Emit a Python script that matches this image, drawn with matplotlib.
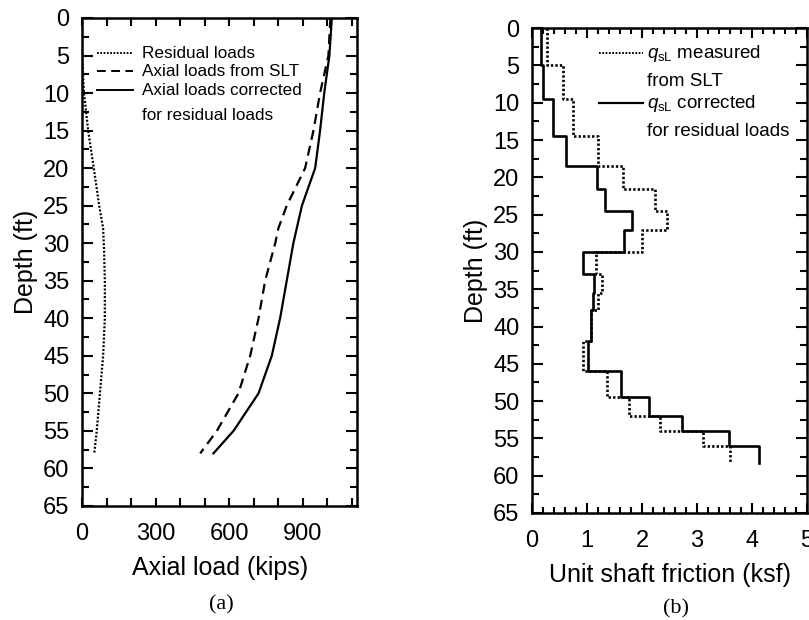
"""Axial load and unit shaft friction profiles vs depth, panels (a) and (b)"""

import matplotlib

matplotlib.use("Agg")
from matplotlib import pyplot as plt
from matplotlib.ticker import MultipleLocator

# ---- panel (a): axial load profiles (kips) vs depth (ft)
residual_depth = [0, 5, 7, 10, 15, 20, 25, 28, 31, 35, 40, 45, 50, 55, 58]
residual_load = [0, 0, 3, 8, 25, 48, 70, 86, 90, 93, 93, 86, 73, 60, 50]

slt_depth = [0, 5, 10, 15, 20, 25, 28, 30, 35, 40, 45, 50, 55, 58]
slt_load = [1013, 1005, 971, 944, 910, 835, 801, 788, 747, 720, 686, 638, 550, 482]

corr_depth = [0, 5, 10, 15, 20, 25, 28, 30, 35, 40, 45, 50, 55, 58]
corr_load = [1019, 1009, 988, 971, 951, 897, 876, 862, 835, 808, 774, 720, 618, 536]

# ---- panel (b): unit shaft friction per layer (ksf)
layer_bounds = [0, 5, 9.5, 14.5, 18.5, 21.5, 24.5, 27, 30, 33, 35.5, 37.8,
                42, 46, 49.5, 52, 54, 56, 58.3]
qs_measured = [0.28, 0.57, 0.75, 1.2, 1.65, 2.24, 2.45, 2.0, 1.17, 1.28, 1.2,
               1.08, 0.92, 1.36, 1.76, 2.33, 3.11, 3.6]
qs_corrected = [0.17, 0.2, 0.39, 0.62, 1.18, 1.33, 1.82, 1.67, 0.93, 1.13, 1.11,
                1.08, 1.02, 1.61, 2.12, 2.72, 3.58, 4.13]

plt.rcParams["font.family"] = ["Liberation Sans", "DejaVu Sans"]
plt.rcParams["mathtext.fontset"] = "custom"
plt.rcParams["mathtext.rm"] = "Liberation Sans"
plt.rcParams["mathtext.it"] = "Liberation Sans:italic"

DOT = (0, (0.9, 0.8))
DASH = (0, (4.5, 2.8))


def step_path(bounds, values):
    xs, ys = [], []
    for top, bot, v in zip(bounds[:-1], bounds[1:], values):
        xs += [v, v]
        ys += [top, bot]
    return xs, ys


def style_axes(ax):
    for sp in ax.spines.values():
        sp.set_linewidth(1.8)
    ax.tick_params(which="both", direction="in", top=True, right=True,
                   width=1.5, labelsize=17, pad=9)
    ax.tick_params(axis="x", which="both", pad=12)
    ax.tick_params(axis="y", which="major", length=8)
    ax.tick_params(axis="y", which="minor", length=5)
    ax.set_ylim(65, 0)
    ax.yaxis.set_major_locator(MultipleLocator(5))
    ax.yaxis.set_minor_locator(MultipleLocator(2.5))


def legend_row(ax, x0, x1, y, ls, lw):
    ax.plot([x0, x1], [y, y], transform=ax.transAxes, color="k", ls=ls,
            lw=lw, clip_on=False)


def main():
    fig = plt.figure(figsize=(8.09, 6.2), dpi=100)
    ax1 = fig.add_axes([0.1014, 0.184, 0.340, 0.787])
    ax2 = fig.add_axes([0.6576, 0.1726, 0.340, 0.782])

    # (a)
    ax1.plot(residual_load, residual_depth, color="k", ls=DOT, lw=1.6)
    ax1.plot(slt_load, slt_depth, color="k", ls=DASH, lw=1.6)
    ax1.plot(corr_load, corr_depth, color="k", ls="-", lw=1.6)
    style_axes(ax1)
    ax1.set_xlim(0, 1122)
    ax1.xaxis.set_major_locator(MultipleLocator(300))
    ax1.xaxis.set_minor_locator(MultipleLocator(100))
    ax1.tick_params(axis="x", which="both", length=6)
    ax1.set_xlabel("Axial load (kips)", fontsize=18, labelpad=8)
    ax1.set_ylabel("Depth (ft)", fontsize=18, labelpad=4)

    fs = 12.3
    legend_row(ax1, 0.055, 0.185, 0.928, DOT, 1.4)
    ax1.text(0.218, 0.928, "Residual loads", transform=ax1.transAxes,
             fontsize=fs, va="center")
    legend_row(ax1, 0.055, 0.185, 0.891, DASH, 1.4)
    ax1.text(0.218, 0.891, "Axial loads from SLT", transform=ax1.transAxes,
             fontsize=fs, va="center")
    legend_row(ax1, 0.055, 0.185, 0.852, "-", 1.4)
    ax1.text(0.218, 0.852, "Axial loads corrected", transform=ax1.transAxes,
             fontsize=fs, va="center")
    ax1.text(0.218, 0.801, "for residual loads", transform=ax1.transAxes,
             fontsize=fs, va="center")

    # (b)
    xm, ym = step_path(layer_bounds, qs_measured)
    xc, yc = step_path(layer_bounds, qs_corrected)
    ax2.plot(xm, ym, color="k", ls=DOT, lw=1.9)
    ax2.plot(xc, yc, color="k", ls="-", lw=1.9)
    style_axes(ax2)
    ax2.set_xlim(0, 5)
    ax2.xaxis.set_major_locator(MultipleLocator(1))
    ax2.xaxis.set_minor_locator(MultipleLocator(0.2))
    ax2.tick_params(axis="x", which="major", length=7)
    ax2.tick_params(axis="x", which="minor", length=4)
    ax2.set_xlabel("Unit shaft friction (ksf)", fontsize=18, labelpad=8)
    ax2.set_ylabel("Depth (ft)", fontsize=18, labelpad=4)

    fs = 13.5
    legend_row(ax2, 0.244, 0.404, 0.948, DOT, 1.4)
    ax2.text(0.418, 0.948, r"$q_{\mathrm{sL}}$ measured", transform=ax2.transAxes,
             fontsize=fs, va="center")
    ax2.text(0.418, 0.889, "from SLT", transform=ax2.transAxes,
             fontsize=fs, va="center")
    legend_row(ax2, 0.244, 0.404, 0.845, "-", 1.6)
    ax2.text(0.418, 0.845, r"$q_{\mathrm{sL}}$ corrected", transform=ax2.transAxes,
             fontsize=fs, va="center")
    ax2.text(0.418, 0.786, "for residual loads", transform=ax2.transAxes,
             fontsize=fs, va="center")

    fig.text(0.274, 0.017, "(a)", family="Liberation Serif", fontsize=16,
             ha="center")
    fig.text(0.836, 0.010, "(b)", family="Liberation Serif", fontsize=16,
             ha="center")

    fig.savefig("out.png", dpi=100, facecolor="white")


if __name__ == "__main__":
    main()
